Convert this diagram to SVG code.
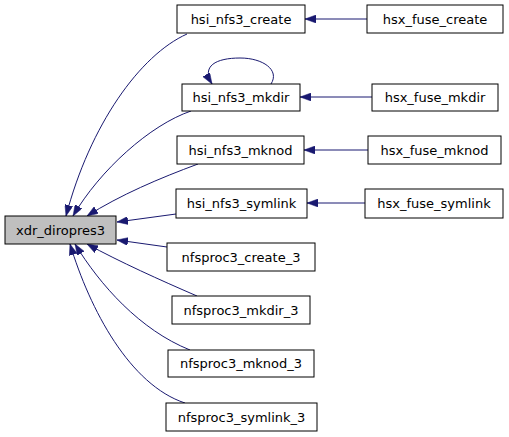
<svg xmlns="http://www.w3.org/2000/svg" width="509" height="437" viewBox="0 0 509 437">
<defs>
<marker id="ah" viewBox="0 0 11 8" refX="11" refY="4" markerWidth="11" markerHeight="8" markerUnits="userSpaceOnUse" orient="auto">
<path d="M0,0 L11,4 L0,8 z" fill="#191970" stroke="#191970" stroke-width="0.5"/>
</marker>
<style>
rect{fill:#fff;stroke:#000;stroke-width:1}
#xdr rect{fill:#bfbfbf}
text{font-family:"DejaVu Sans",sans-serif;font-size:13px;text-anchor:middle;fill:#000}
.e{fill:none;stroke:#191970;stroke-width:1;marker-end:url(#ah)}
</style>
</defs>
<rect x="0" y="0" width="509" height="437" style="fill:#fff;stroke:none"/>
<g id="edges">
<path class="e" d="M187,34 C140,55 90,125 66,216"/>
<path class="e" d="M191,111 C150,125 100,170 73,216"/>
<path class="e" d="M198,164 C160,178 120,195 87,216"/>
<path class="e" d="M176,214 L117,222"/>
<path class="e" d="M167,247 L117,240"/>
<path class="e" d="M197,296 C160,280 120,262 87,244"/>
<path class="e" d="M190,350 C140,330 100,285 75,244"/>
<path class="e" d="M185,403 C130,385 90,310 70,244"/>
<path class="e" d="M271,84 C280,70 263,58 240,58 C216,58 201,66 212,84"/>
<path class="e" d="M367,19 L305,19"/>
<path class="e" d="M372,97 L300,97"/>
<path class="e" d="M368,150 L304,150"/>
<path class="e" d="M365,203 L307,203"/>
</g>
<g id="xdr"><rect x="5" y="216" width="111" height="28"/><text x="60.5" y="234.5">xdr_diropres3</text></g>
<g id="hsi_create"><rect x="177" y="5" width="128" height="28"/><text x="241" y="23.5">hsi_nfs3_create</text></g>
<g id="hsx_create"><rect x="367" y="5" width="136" height="28"/><text x="435" y="23.5">hsx_fuse_create</text></g>
<g id="hsi_mkdir"><rect x="182" y="84" width="118" height="27"/><text x="241" y="102">hsi_nfs3_mkdir</text></g>
<g id="hsx_mkdir"><rect x="372" y="84" width="126" height="27"/><text x="435" y="102">hsx_fuse_mkdir</text></g>
<g id="hsi_mknod"><rect x="177" y="136" width="127" height="28"/><text x="240.5" y="154.5">hsi_nfs3_mknod</text></g>
<g id="hsx_mknod"><rect x="368" y="136" width="133" height="28"/><text x="434.5" y="154.5">hsx_fuse_mknod</text></g>
<g id="hsi_symlink"><rect x="176" y="189" width="131" height="29"/><text x="241.5" y="208">hsi_nfs3_symlink</text></g>
<g id="hsx_symlink"><rect x="365" y="189" width="138" height="29"/><text x="434" y="208">hsx_fuse_symlink</text></g>
<g id="nfs_create"><rect x="167" y="243" width="148" height="28"/><text x="241" y="261.5">nfsproc3_create_3</text></g>
<g id="nfs_mkdir"><rect x="172" y="296" width="138" height="28"/><text x="241" y="314.5">nfsproc3_mkdir_3</text></g>
<g id="nfs_mknod"><rect x="168" y="350" width="146" height="27"/><text x="241" y="368">nfsproc3_mknod_3</text></g>
<g id="nfs_symlink"><rect x="166" y="403" width="151" height="28"/><text x="241.5" y="421.5">nfsproc3_symlink_3</text></g>
</svg>
